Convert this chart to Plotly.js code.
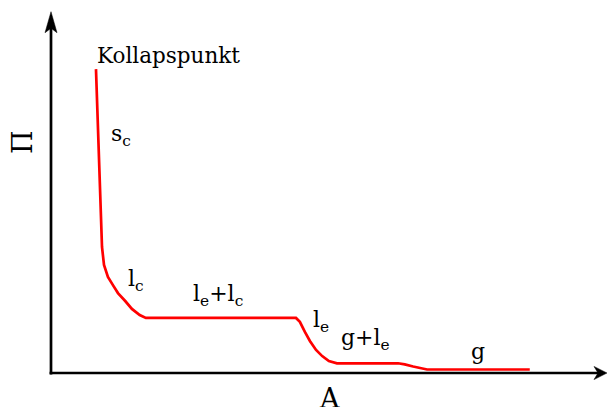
<!DOCTYPE html>
<html>
<head>
<meta charset="utf-8">
<script src="https://cdn.plot.ly/plotly-3.0.1.min.js"></script>
<style>
  html, body { margin: 0; padding: 0; background: #fff; }
  #chart { width: 609px; height: 407px; }
</style>
</head>
<body>
<div id="chart"></div>
<script>
// Schematic Langmuir isotherm: surface pressure (Π) over area per molecule (A), arbitrary units
const areaA = [8.06, 8.42, 8.78, 8.96, 9.14, 9.50, 10.2, 11.1, 12.0, 13.3, 14.5, 15.9, 17.0,
               43.9, 44.6, 45.5, 46.4, 47.5, 48.6, 49.8, 51.25,
               62.2, 63.4, 64.9, 66.1, 67.4, 85.8];
const pressure = [84.4, 67.5, 50.8, 41.1, 35.0, 30.0, 26.7, 24.4, 22.2, 20.0, 17.8, 16.1, 15.3,
                  15.3, 14.2, 11.4, 8.9, 6.4, 4.7, 3.3, 2.7,
                  2.7, 2.4, 1.8, 1.3, 0.97, 0.97];

// Phase labels and where they sit
const phaseLabels = ['Kollapspunkt', 's<sub>c</sub>', 'l<sub>c</sub>', 'l<sub>e</sub>+l<sub>c</sub>',
                     'l<sub>e</sub>', 'g+l<sub>e</sub>', 'g'];
const labelA = [7.9, 10.4, 13.4, 25.0, 46.6, 51.6, 74.9];
const labelPi = [88.1, 66.1, 25.6, 21.5, 14.4, 9.3, 6.1];

const xTitle = 'A';
const yTitle = 'Π';

// ends of the two axis arrows
const xAxisEnd = 99.64;
const yAxisEnd = 100.36;

const serif = 'DejaVu Serif, serif';

const annotations = phaseLabels.map((t, i) => ({
  x: labelA[i], y: labelPi[i], xref: 'x', yref: 'y',
  text: t, showarrow: false, xanchor: 'left', yanchor: 'middle',
  font: { family: serif, size: i === 0 ? 21.5 : 22, color: '#000' }
}));

// axis titles
annotations.push({
  x: 49.9, y: -7.0, xref: 'x', yref: 'y', text: xTitle, showarrow: false,
  xanchor: 'center', yanchor: 'middle', font: { family: serif, size: 27, color: '#000' }
});
annotations.push({
  x: -5.0, y: 64.2, xref: 'x', yref: 'y', text: yTitle, showarrow: false, textangle: -90,
  xanchor: 'center', yanchor: 'middle', font: { family: serif, size: 27, color: '#000' }
});

// axes drawn as lines with barbed heads (head geometry in pixels)
const shapes = [
  { type: 'line', xref: 'x', yref: 'y', x0: 0, y0: -0.4, x1: 0, y1: yAxisEnd - 4.4,
    line: { color: '#000', width: 2.7 }, layer: 'below' },
  { type: 'line', xref: 'x', yref: 'y', x0: -0.25, y0: 0, x1: xAxisEnd - 1.6, y1: 0,
    line: { color: '#000', width: 2.7 }, layer: 'below' },
  { type: 'path', xref: 'x', yref: 'y', xsizemode: 'pixel', ysizemode: 'pixel',
    xanchor: 0, yanchor: yAxisEnd, path: 'M0,0 L6,-21 L0,-16.5 L-6,-21 Z',
    fillcolor: '#000', line: { color: '#000', width: 0.5 }, layer: 'below' },
  { type: 'path', xref: 'x', yref: 'y', xsizemode: 'pixel', ysizemode: 'pixel',
    xanchor: xAxisEnd, yanchor: 0, path: 'M0,0 L-13,6.6 L-9,0 L-13,-6.6 Z',
    fillcolor: '#000', line: { color: '#000', width: 0.5 }, layer: 'below' }
];

const trace = {
  x: areaA, y: pressure, type: 'scatter', mode: 'lines',
  line: { color: '#ff0000', width: 2.7 }, hoverinfo: 'skip', cliponaxis: false
};

const layout = {
  width: 609, height: 407,
  margin: { l: 0, r: 0, t: 0, b: 0 },
  paper_bgcolor: '#fff', plot_bgcolor: '#fff',
  showlegend: false,
  xaxis: { range: [-9.14, 100], visible: false, fixedrange: true },
  yaxis: { range: [-9.44, 103.61], visible: false, fixedrange: true },
  shapes: shapes,
  annotations: annotations
};

Plotly.newPlot('chart', [trace], layout, { displayModeBar: false, staticPlot: true });
</script>
</body>
</html>
